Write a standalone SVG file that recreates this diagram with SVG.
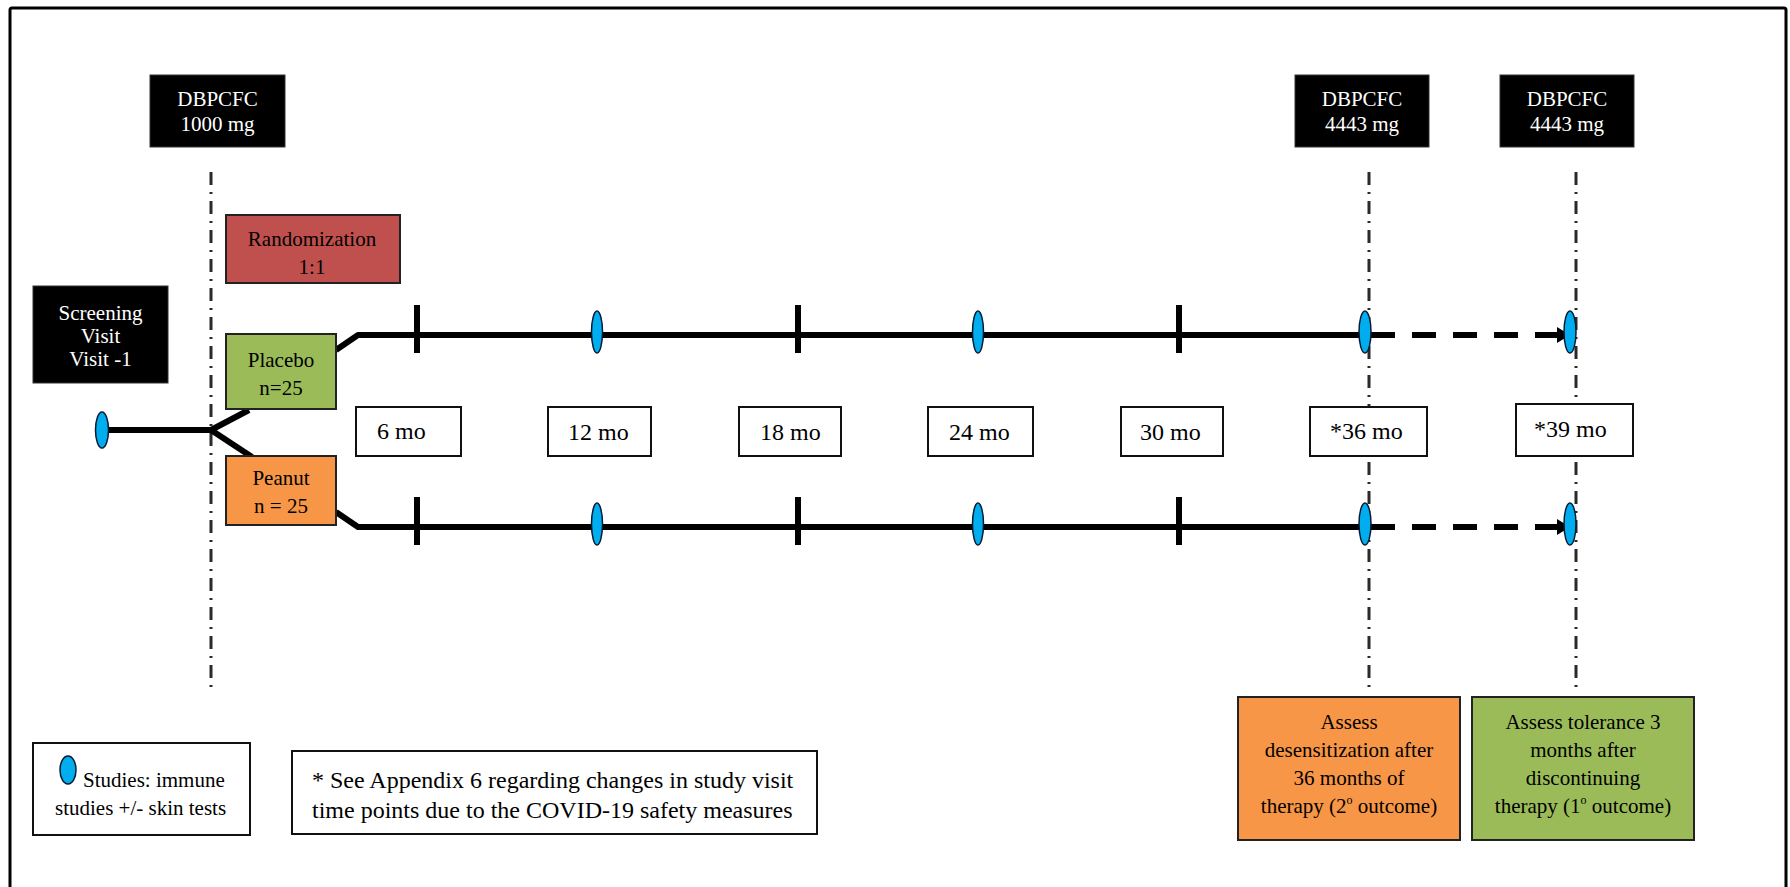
<svg xmlns="http://www.w3.org/2000/svg" width="1790" height="887" viewBox="0 0 1790 887">
<style>
text{font-family:"Liberation Serif","Times New Roman",serif;}
.t21{font-size:21px;}
.t24{font-size:24px;}
.w{fill:#ffffff;}
.k{fill:#000000;}
.blk{fill:#000000;stroke:#333333;stroke-width:1;}
.box{fill:#ffffff;stroke:#111111;stroke-width:2;}
.cbox{stroke:#222222;stroke-width:2;}
.vline{stroke:#2a2a2a;stroke-width:3;stroke-dasharray:13 7 2 7;fill:none;}
.arm{stroke:#000000;stroke-width:6;fill:none;stroke-linejoin:round;}
.dash{stroke:#000000;stroke-width:6;fill:none;stroke-dasharray:24 17;}
.tick{stroke:#000000;stroke-width:6;}
.ov{fill:#00AEEF;stroke:#0b1a33;stroke-width:1.5;}
</style>
<defs>
<marker id="ah" markerUnits="userSpaceOnUse" markerWidth="14" markerHeight="18" refX="0" refY="9" orient="auto">
<path d="M0,1 L13,9 L0,17 z" fill="#000000"/>
</marker>
</defs>

<rect id="frame" x="10" y="8" width="1776" height="900" fill="none" stroke="#000000" stroke-width="3" rx="2"/>

<g id="guides">
<line class="vline" x1="211" y1="172" x2="211" y2="690"/>
<line class="vline" x1="1369" y1="172" x2="1369" y2="690"/>
<line class="vline" x1="1576" y1="172" x2="1576" y2="690"/>
</g>

<g id="connectors">
<path class="arm" d="M102,430 L211,430 L249,410"/>
<path class="arm" d="M211,430 L252,457"/>
<path class="arm" d="M336,350 L358,335 L1395,335"/>
<path class="arm" d="M336,512 L358,527 L1395,527"/>
<path class="dash" d="M1412,335 L1557,335" marker-end="url(#ah)"/>
<path class="dash" d="M1412,527 L1557,527" marker-end="url(#ah)"/>
<line class="tick" x1="417" y1="305" x2="417" y2="353"/>
<line class="tick" x1="798" y1="305" x2="798" y2="353"/>
<line class="tick" x1="1179" y1="305" x2="1179" y2="353"/>
<line class="tick" x1="417" y1="497" x2="417" y2="545"/>
<line class="tick" x1="798" y1="497" x2="798" y2="545"/>
<line class="tick" x1="1179" y1="497" x2="1179" y2="545"/>
</g>

<g id="ovals">
<ellipse class="ov" cx="102" cy="430" rx="6.5" ry="18"/>
<ellipse class="ov" cx="597" cy="332" rx="5.5" ry="21"/>
<ellipse class="ov" cx="978" cy="332" rx="5.5" ry="21"/>
<ellipse class="ov" cx="1365" cy="332" rx="6" ry="21"/>
<ellipse class="ov" cx="1570" cy="332" rx="6" ry="21"/>
<ellipse class="ov" cx="597" cy="524" rx="5.5" ry="21"/>
<ellipse class="ov" cx="978" cy="524" rx="5.5" ry="21"/>
<ellipse class="ov" cx="1365" cy="524" rx="6" ry="21"/>
<ellipse class="ov" cx="1570" cy="524" rx="6" ry="21"/>
</g>

<g id="dbpcfc1000">
<rect class="blk" x="150" y="75" width="135" height="72"/>
<text class="t21 w" x="217.5" y="106" text-anchor="middle">DBPCFC</text>
<text class="t21 w" x="217.5" y="131" text-anchor="middle">1000 mg</text>
</g>
<g id="dbpcfc4443a">
<rect class="blk" x="1295" y="75" width="134" height="72"/>
<text class="t21 w" x="1362" y="106" text-anchor="middle">DBPCFC</text>
<text class="t21 w" x="1362" y="131" text-anchor="middle">4443 mg</text>
</g>
<g id="dbpcfc4443b">
<rect class="blk" x="1500" y="75" width="134" height="72"/>
<text class="t21 w" x="1567" y="106" text-anchor="middle">DBPCFC</text>
<text class="t21 w" x="1567" y="131" text-anchor="middle">4443 mg</text>
</g>

<g id="randomization">
<rect class="cbox" x="226" y="215" width="174" height="68" fill="#C0504D"/>
<text class="t21 k" x="312" y="246" text-anchor="middle">Randomization</text>
<text class="t21 k" x="312" y="274" text-anchor="middle">1:1</text>
</g>

<g id="screening">
<rect class="blk" x="33" y="286" width="135" height="97"/>
<text class="t21 w" x="100.5" y="320" text-anchor="middle">Screening</text>
<text class="t21 w" x="100.5" y="343" text-anchor="middle">Visit</text>
<text class="t21 w" x="100.5" y="366" text-anchor="middle">Visit -1</text>
</g>

<g id="placebo">
<rect class="cbox" x="226" y="334" width="110" height="75" fill="#9BBB59"/>
<text class="t21 k" x="281" y="367" text-anchor="middle">Placebo</text>
<text class="t21 k" x="281" y="395" text-anchor="middle">n=25</text>
</g>

<g id="peanut">
<rect class="cbox" x="226" y="456" width="110" height="69" fill="#F79646"/>
<text class="t21 k" x="281" y="485" text-anchor="middle">Peanut</text>
<text class="t21 k" x="281" y="513" text-anchor="middle">n = 25</text>
</g>

<g id="m6"><rect class="box" x="356" y="407" width="105" height="49"/><text class="t24 k" x="377" y="439">6 mo</text></g>
<g id="m12"><rect class="box" x="548" y="407" width="103" height="49"/><text class="t24 k" x="568" y="440">12 mo</text></g>
<g id="m18"><rect class="box" x="739" y="407" width="102" height="49"/><text class="t24 k" x="760" y="440">18 mo</text></g>
<g id="m24"><rect class="box" x="928" y="407" width="105" height="49"/><text class="t24 k" x="949" y="440">24 mo</text></g>
<g id="m30"><rect class="box" x="1121" y="407" width="102" height="49"/><text class="t24 k" x="1140" y="440">30 mo</text></g>
<g id="m36"><rect class="box" x="1310" y="407" width="117" height="49"/><text class="t24 k" x="1330" y="439">*36 mo</text></g>
<g id="m39"><rect class="box" x="1516" y="404" width="117" height="52"/><text class="t24 k" x="1534" y="437">*39 mo</text></g>

<g id="outcome2">
<rect class="cbox" x="1238" y="697" width="222" height="143" fill="#F79646"/>
<text class="t21 k" x="1349" y="729" text-anchor="middle">Assess</text>
<text class="t21 k" x="1349" y="757" text-anchor="middle">desensitization after</text>
<text class="t21 k" x="1349" y="785" text-anchor="middle">36 months of</text>
<text class="t21 k" x="1349" y="813" text-anchor="middle">therapy (2<tspan font-size="12" dy="-9">o</tspan><tspan dy="9"> outcome)</tspan></text>
</g>

<g id="outcome1">
<rect class="cbox" x="1472" y="697" width="222" height="143" fill="#9BBB59"/>
<text class="t21 k" x="1583" y="729" text-anchor="middle">Assess tolerance 3</text>
<text class="t21 k" x="1583" y="757" text-anchor="middle">months after</text>
<text class="t21 k" x="1583" y="785" text-anchor="middle">discontinuing</text>
<text class="t21 k" x="1583" y="813" text-anchor="middle">therapy (1<tspan font-size="12" dy="-9">o</tspan><tspan dy="9"> outcome)</tspan></text>
</g>

<g id="legend-studies">
<rect class="box" x="33" y="743" width="217" height="92"/>
<ellipse class="ov" cx="68" cy="770" rx="8" ry="14" stroke-width="2.5"/>
<text class="t21 k" x="83" y="787">Studies: immune</text>
<text class="t21 k" x="55" y="815">studies +/- skin tests</text>
</g>

<g id="legend-note">
<rect class="box" x="292" y="751" width="525" height="83"/>
<text class="t24 k" x="312" y="788">* See Appendix 6 regarding changes in study visit</text>
<text class="t24 k" x="312" y="818">time points due to the COVID-19 safety measures</text>
</g>
</svg>
